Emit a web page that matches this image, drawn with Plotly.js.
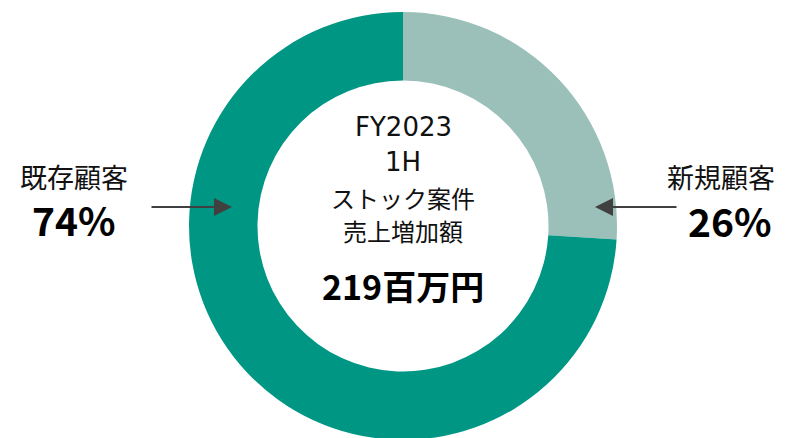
<!DOCTYPE html>
<html>
<head>
<meta charset="utf-8">
<script src="https://cdn.plot.ly/plotly-3.0.1.min.js"></script>
<style>
html,body{margin:0;padding:0;overflow:hidden;background:#fff;}
#chart{width:785px;height:460px;}
</style>
</head>
<body>
<div id="chart"></div>
<script>
// Data
var labels = ['新規顧客', '既存顧客'];
var values = [26, 74];
var colors = ['#9BBFB9', '#009684'];
var centerLines = ['FY2023', '1H', 'ストック案件', '売上増加額'];
var centerTotal = '219百万円';

var W = 785, H = 460;
function px(x) { return x / W; }
function py(y) { return (H - y) / H; }

var FONT = '"Noto Sans CJK JP", "Noto Sans", sans-serif';
var LATIN = '"DejaVu Sans", "Noto Sans CJK JP", sans-serif';
var total = values.reduce(function (a, b) { return a + b; }, 0);
function pct(i) { return Math.round(values[i] / total * 100) + '%'; }

var trace = {
  type: 'pie',
  labels: labels,
  values: values,
  sort: false,
  direction: 'clockwise',
  rotation: 0,
  hole: 0.68,
  textinfo: 'none',
  hoverinfo: 'label+percent',
  marker: { colors: colors, line: { width: 0 } },
  domain: { x: [px(189), px(617)], y: [py(440), py(12)] },
  showlegend: false
};

var ann = [];
var lineY = [127, 162, 197, 230];
centerLines.forEach(function (t, i) {
  var latin = /^[\x00-\x7F]+$/.test(t);
  ann.push({ text: t, x: px(403), y: py(lineY[i]), xref: 'paper', yref: 'paper',
    xanchor: 'center', yanchor: 'middle', showarrow: false,
    font: { family: latin ? LATIN : FONT, size: latin ? 26 : 24, color: '#111' } });
});
ann.push({ text: '<b>' + centerTotal + '</b>', x: px(403), y: py(285), xref: 'paper', yref: 'paper',
  xanchor: 'center', yanchor: 'middle', showarrow: false,
  font: { family: FONT, size: 34, color: '#000' } });

// Side labels
ann.push({ text: labels[1], x: px(74), y: py(176), xref: 'paper', yref: 'paper',
  xanchor: 'center', yanchor: 'middle', showarrow: false,
  font: { family: FONT, size: 27, color: '#111' } });
ann.push({ text: '<b>' + pct(1) + '</b>', x: px(74), y: py(219), xref: 'paper', yref: 'paper',
  xanchor: 'center', yanchor: 'middle', showarrow: false,
  font: { family: FONT, size: 39, color: '#000' } });
ann.push({ text: labels[0], x: px(721), y: py(176), xref: 'paper', yref: 'paper',
  xanchor: 'center', yanchor: 'middle', showarrow: false,
  font: { family: FONT, size: 27, color: '#111' } });
ann.push({ text: '<b>' + pct(0) + '</b>', x: px(730), y: py(220), xref: 'paper', yref: 'paper',
  xanchor: 'center', yanchor: 'middle', showarrow: false,
  font: { family: FONT, size: 39, color: '#000' } });

// Arrows
ann.push({ text: '', x: px(232), y: py(207), xref: 'paper', yref: 'paper',
  ax: -82, ay: 0, showarrow: true, arrowhead: 2, arrowsize: 1.8, arrowwidth: 2, arrowcolor: '#404040' });
ann.push({ text: '', x: px(595), y: py(207), xref: 'paper', yref: 'paper',
  ax: 83, ay: 0, showarrow: true, arrowhead: 2, arrowsize: 1.8, arrowwidth: 2, arrowcolor: '#404040' });

var layout = {
  width: W, height: H,
  margin: { l: 0, r: 0, t: 0, b: 0 },
  paper_bgcolor: '#fff',
  plot_bgcolor: '#fff',
  annotations: ann,
  font: { family: FONT }
};

Plotly.newPlot('chart', [trace], layout, { displayModeBar: false, staticPlot: true });
</script>
</body>
</html>
